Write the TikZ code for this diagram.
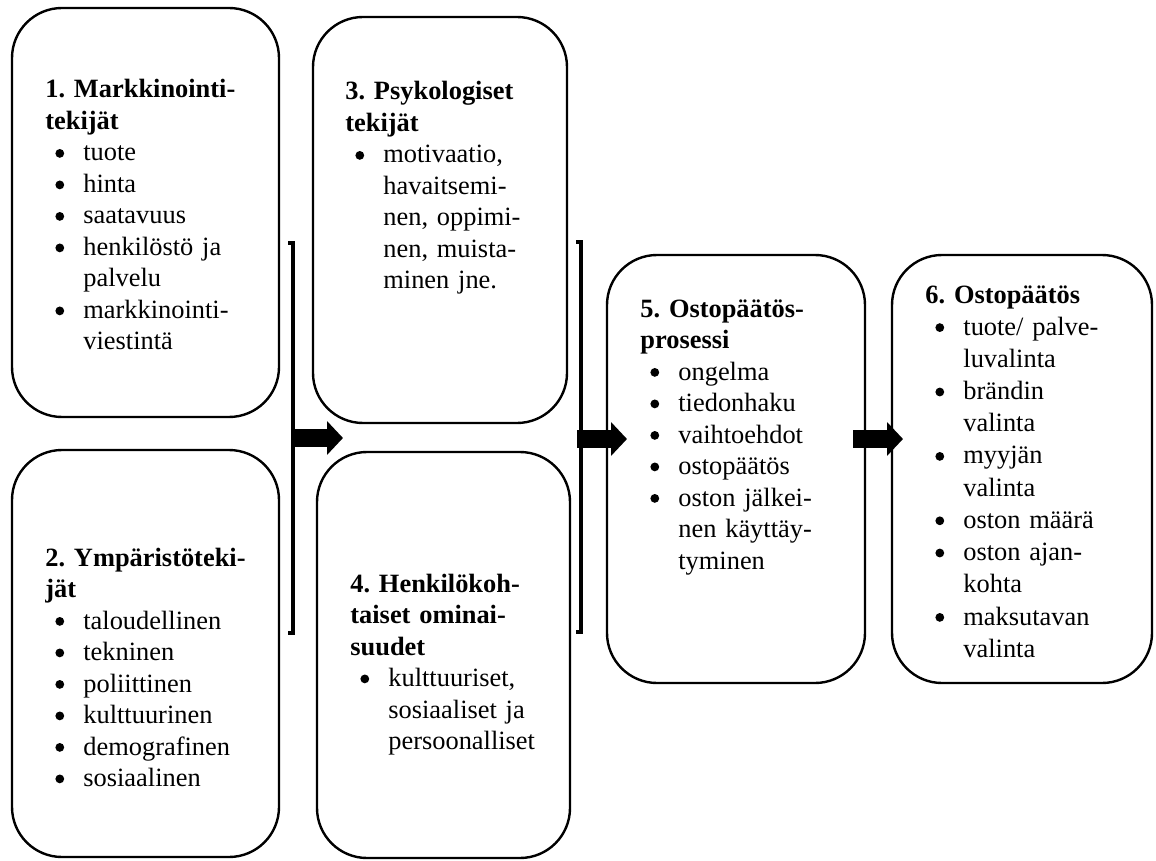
\documentclass[tikz,border=0pt]{standalone}
\usepackage{fontspec}
\setmainfont{Liberation Serif}
\usetikzlibrary{arrows.meta,positioning,fit}

% round list bullet, then item and continuation lines inside a box
\newcommand{\bulletmark}{\tikz[baseline=0pt]\fill (2.2pt,3.8pt) circle[radius=2.2pt];}
\newcommand{\itm}[1]{\hspace*{5pt}\makebox[14pt][l]{\bulletmark}#1}
\newcommand{\cnt}[1]{\hspace*{19pt}#1}

\tikzset{
  factorbox/.style={draw, line width=1.2pt, rounded corners=25pt, inner sep=0pt},
  boxtext/.style={anchor=base west, inner sep=0pt, text width=130pt, align=left,
                  font=\fontsize{13.2pt}{15.75pt}\selectfont\frenchspacing},
  widetext/.style={boxtext, font=\fontsize{13.2pt}{16.1pt}\selectfont\frenchspacing},
  bracketline/.style={line width=1.8pt},
  blockarrow/.style={line width=9pt, -{Triangle[length=8pt,width=16.5pt]}},
}

\begin{document}
\begin{tikzpicture}[x=0.5pt,y=-0.5pt]
\useasboundingbox (0,0) rectangle (1156,861);

% factor boxes
\node[factorbox, fit={(12,8) (279,417)}] (m1) {};
\node[factorbox, fit={(12,450) (279,857)}] (m2) {};
\node[factorbox, fit={(313,17) (567,423)}] (m3) {};
\node[factorbox, fit={(317,452) (570,858)}] (m4) {};
\node[factorbox, fit={(607,255) (865,683)}] (m5) {};
\node[factorbox, fit={(892,255) (1152,683)}] (m6) {};

% box contents
\node[boxtext] (t1) at (45,98) {%
\textbf{1. Markkinointi-}\\
\textbf{tekijät}\\
\itm{tuote}\\
\itm{hinta}\\
\itm{saatavuus}\\
\itm{henkilöstö ja}\\
\cnt{palvelu}\\
\itm{markkinointi-}\\
\cnt{viestintä}};

\node[boxtext] (t2) at (45,566) {%
\textbf{2. Ympäristöteki-}\\
\textbf{jät}\\
\itm{taloudellinen}\\
\itm{tekninen}\\
\itm{poliittinen}\\
\itm{kulttuurinen}\\
\itm{demografinen}\\
\itm{sosiaalinen}};

\node[boxtext] (t3) at (345,100) {%
\textbf{3. Psykologiset}\\
\textbf{tekijät}\\
\itm{motivaatio,}\\
\cnt{havaitsemi-}\\
\cnt{nen, oppimi-}\\
\cnt{nen, muista-}\\
\cnt{minen jne.}};

\node[boxtext] (t4) at (350,592) {%
\textbf{4. Henkilökoh-}\\
\textbf{taiset ominai-}\\
\textbf{suudet}\\
\itm{kulttuuriset,}\\
\cnt{sosiaaliset ja}\\
\cnt{persoonalliset}};

\node[boxtext] (t5) at (640,317) {%
\textbf{5. Ostopäätös-}\\
\textbf{prosessi}\\
\itm{ongelma}\\
\itm{tiedonhaku}\\
\itm{vaihtoehdot}\\
\itm{ostopäätös}\\
\itm{oston jälkei-}\\
\cnt{nen käyttäy-}\\
\cnt{tyminen}};

\node[widetext] (t6) at (925,303) {%
\textbf{6. Ostopäätös}\\
\itm{tuote/ palve-}\\
\cnt{luvalinta}\\
\itm{brändin}\\
\cnt{valinta}\\
\itm{myyjän}\\
\cnt{valinta}\\
\itm{oston määrä}\\
\itm{oston ajan-}\\
\cnt{kohta}\\
\itm{maksutavan}\\
\cnt{valinta}};

% brackets gathering the factor groups
\coordinate (k1a) at (288,243);
\coordinate (k1b) at (293,243);
\coordinate (k1c) at (293,633);
\coordinate (k1d) at (288,633);
\draw[bracketline] (k1a) -- (k1b) -- (k1c) -- (k1d);

\coordinate (k2a) at (576,242);
\coordinate (k2b) at (581,242);
\coordinate (k2c) at (581,632);
\coordinate (k2d) at (576,632);
\draw[bracketline] (k2a) -- (k2b) -- (k2c) -- (k2d);

% block arrows
\coordinate (a1s) at (293,438);
\coordinate (a1e) at (343,438);
\coordinate (a2s) at (577,439);
\coordinate (a2e) at (627,439);
\coordinate (a3s) at (853,439);
\coordinate (a3e) at (903,439);
\draw[blockarrow] (a1s) -- (a1e);
\draw[blockarrow] (a2s) -- (a2e);
\draw[blockarrow] (a3s) -- (a3e);
\end{tikzpicture}
\end{document}
